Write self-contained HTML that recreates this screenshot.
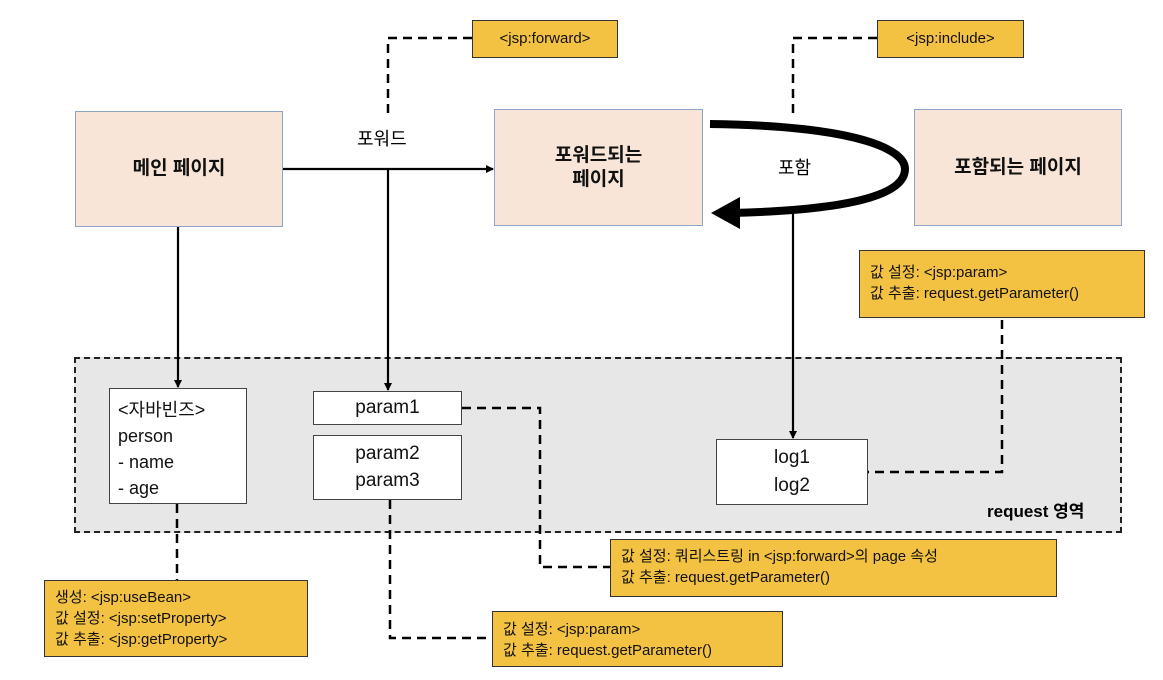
<!DOCTYPE html>
<html><head><meta charset="utf-8"><style>
body{margin:0;background:#fff;width:1163px;height:680px;overflow:hidden;position:relative;font-family:"Liberation Sans","Noto Sans CJK KR",sans-serif;}
.a{position:absolute;box-sizing:border-box}
.pink{background:#f8e5d8;border:1.5px solid #8fa5c8;display:flex;align-items:center;justify-content:center;text-align:center;font-weight:bold;font-size:19px;line-height:24px;color:#111}
.yel{background:#f4c243;border:1.5px solid #333;font-size:15px;line-height:21px;color:#111;padding:0 10px}
.wh{background:#fff;border:1.5px solid #444;font-size:19px;color:#111}
</style></head><body>
<div class="a" style="left:74px;top:357px;width:1048px;height:176px;background:#e7e7e7;border:2px dashed #222"></div>
<div class="a" style="left:987px;top:497px;font-weight:bold;font-size:17px">request 영역</div>

<div class="a pink" style="left:75px;top:111px;width:208px;height:116px">메인 페이지</div>
<div class="a pink" style="left:494px;top:109px;width:209px;height:117px">포워드되는<br>페이지</div>
<div class="a pink" style="left:914px;top:109px;width:208px;height:117px">포함되는 페이지</div>

<div class="a yel" style="left:472px;top:20px;width:146px;height:38px;line-height:36px;text-align:center;padding:0">&lt;jsp:forward&gt;</div>
<div class="a yel" style="left:877px;top:20px;width:147px;height:38px;line-height:36px;text-align:center;padding:0">&lt;jsp:include&gt;</div>
<div class="a yel" style="left:859px;top:250px;width:286px;height:68px;padding-top:11px">값 설정: &lt;jsp:param&gt;<br>값 추출: request.getParameter()</div>
<div class="a yel" style="left:610px;top:539px;width:447px;height:58px;padding-top:6px">값 설정: 쿼리스트링 in &lt;jsp:forward&gt;의 page 속성<br>값 추출: request.getParameter()</div>
<div class="a yel" style="left:492px;top:611px;width:291px;height:56px;padding-top:7px">값 설정: &lt;jsp:param&gt;<br>값 추출: request.getParameter()</div>
<div class="a yel" style="left:44px;top:580px;width:264px;height:77px;padding-top:6px">생성: &lt;jsp:useBean&gt;<br>값 설정: &lt;jsp:setProperty&gt;<br>값 추출: &lt;jsp:getProperty&gt;</div>

<div class="a wh" style="left:109px;top:388px;width:138px;height:116px;padding:8px 0 0 8px;line-height:26px;font-size:18px">&lt;자바빈즈&gt;<br>person<br>- name<br>- age</div>
<div class="a wh" style="left:313px;top:391px;width:149px;height:34px;text-align:center;line-height:31px">param1</div>
<div class="a wh" style="left:313px;top:435px;width:149px;height:65px;text-align:center;line-height:27px;padding-top:4px">param2<br>param3</div>
<div class="a wh" style="left:716px;top:439px;width:152px;height:66px;text-align:center;line-height:28px;padding-top:4px">log1<br>log2</div>

<div class="a" style="left:357px;top:125px;font-size:18px">포워드</div>
<div class="a" style="left:778px;top:154px;font-size:18px">포함</div>

<svg class="a" style="left:0;top:0" width="1163" height="680">
<defs><marker id="ar" markerWidth="8" markerHeight="8" refX="7" refY="4" orient="auto" markerUnits="userSpaceOnUse"><path d="M0,0L8,4L0,8z" fill="#000"/></marker></defs>
<g stroke="#000" stroke-width="2.2" fill="none">
<line x1="283" y1="169" x2="493" y2="169" marker-end="url(#ar)"/>
<line x1="388" y1="169" x2="388" y2="390" marker-end="url(#ar)"/>
<line x1="178" y1="227" x2="178" y2="387" marker-end="url(#ar)"/>
<line x1="793" y1="213" x2="793" y2="438" marker-end="url(#ar)"/>
</g>
<g stroke="#000" stroke-width="2.5" fill="none" stroke-dasharray="9,6">
<polyline points="388,113 388,38 472,38"/>
<polyline points="793,113 793,38 877,38"/>
<polyline points="1002,320 1002,472 868,472"/>
<polyline points="462,408 540,408 540,567 610,567"/>
<polyline points="390,500 390,638 492,638"/>
<line x1="177" y1="504" x2="177" y2="580"/>
</g>
<path d="M710,124 C860,126 905,150 905,169 C905,195 850,210 732,213" stroke="#000" stroke-width="8" fill="none"/>
<path d="M711,213 L740,197 L740,229 Z" fill="#000"/>
</svg>
</body></html>
